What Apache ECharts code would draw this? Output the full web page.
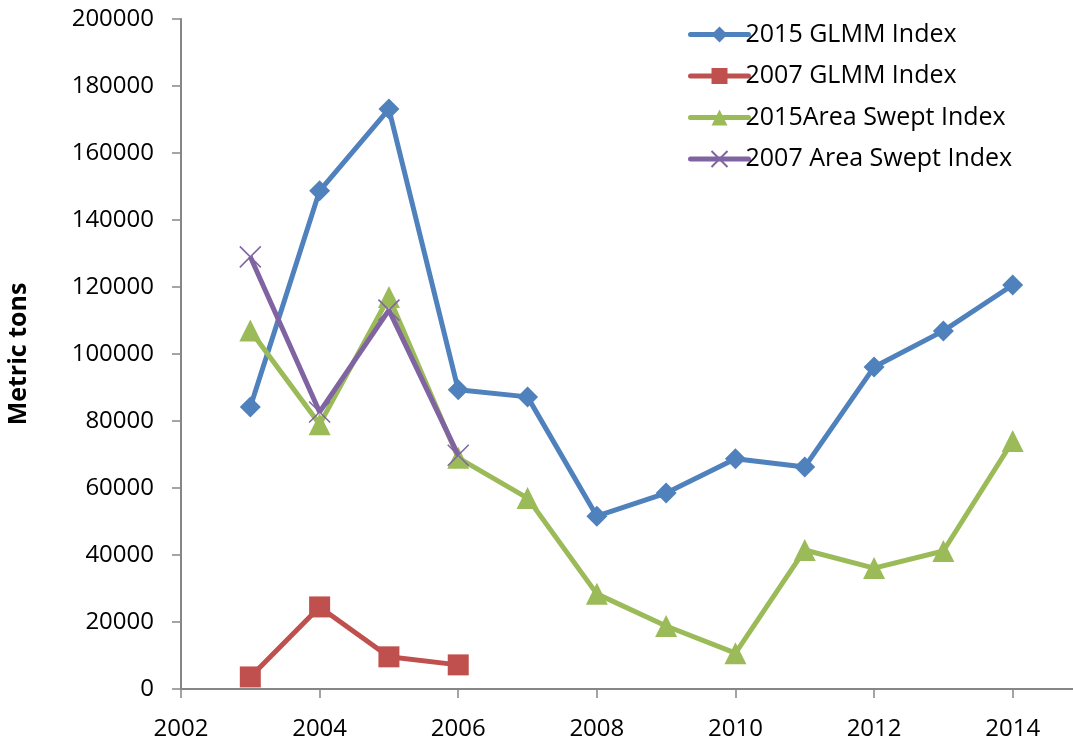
<!DOCTYPE html>
<html>
<head>
<meta charset="utf-8">
<script src="https://cdn.jsdelivr.net/npm/echarts@6/dist/echarts.min.js"></script>
<style>
  html, body { margin: 0; padding: 0; background: #fff; }
  #chart { width: 1073px; height: 742px; }
</style>
</head>
<body>
<div id="chart"></div>
<script>
// values
var years = [2003, 2004, 2005, 2006, 2007, 2008, 2009, 2010, 2011, 2012, 2013, 2014];
var glmm2015 = [84200, 148700, 173100, 89300, 87200, 51600, 58500, 68700, 66300, 96100, 106900, 120600];
var glmmYears2007 = [2003, 2004, 2005, 2006];
var glmm2007 = [3600, 24500, 9600, 7200];
var swept2015 = [107000, 79000, 117000, 69000, 57000, 28400, 18800, 10700, 41500, 36100, 41200, 74000];
var swept2007 = [129000, 82700, 113100, 69800];

function pairs(xs, ys) {
  var out = [];
  for (var i = 0; i < ys.length; i++) out.push([xs[i], ys[i]]);
  return out;
}

var axisGrey = '#868686';
var font = 'Open Sans';
var cross = 'path://M0,0L10,10M10,0L0,10';

var chart = echarts.init(document.getElementById('chart'));
var option = {
  animation: false,
  grid: { left: 181, top: 19, bottom: 53, right: -9, containLabel: false, outerBoundsMode: 'none' },
  legend: {
    orient: 'vertical',
    left: 683,
    top: 17,
    itemWidth: 58,
    itemHeight: 20,
    itemGap: 16.5,
    lineStyle: { width: 5, cap: 'round' },
    textStyle: { fontFamily: font, fontSize: 25, lineHeight: 24, color: '#000', padding: [0, 0, 0, -8] },
    data: ['2015 GLMM Index', '2007 GLMM Index', '2015Area Swept Index', '2007 Area Swept Index']
  },
  xAxis: {
    type: 'value',
    min: 2002,
    max: 2015,
    interval: 2,
    axisLine: { lineStyle: { color: axisGrey, width: 2 } },
    axisTick: { length: 9, lineStyle: { color: axisGrey, width: 1.5 } },
    splitLine: { show: false },
    axisLabel: {
      color: '#000', fontFamily: font, fontSize: 24, margin: 28,
      formatter: function (v) { return v % 2 === 0 ? String(v) : ''; }
    }
  },
  yAxis: {
    type: 'value',
    min: 0,
    max: 200000,
    interval: 20000,
    name: 'Metric tons',
    nameLocation: 'middle',
    nameGap: 150,
    nameTextStyle: { fontFamily: font, fontSize: 25, fontWeight: 'bold', color: '#000' },
    axisLine: { show: true, lineStyle: { color: axisGrey, width: 2 } },
    axisTick: { show: true, length: 9, lineStyle: { color: axisGrey, width: 1.5 } },
    splitLine: { show: false },
    axisLabel: {
      color: '#000', fontFamily: font, fontSize: 24, margin: 27,
      formatter: function (v) { return String(v); }
    }
  },
  series: [
    {
      name: '2015 GLMM Index', type: 'line', data: pairs(years, glmm2015),
      symbol: 'diamond', symbolSize: 21,
      lineStyle: { color: '#4F81BD', width: 5 },
      itemStyle: { color: '#4F81BD' }, z: 2
    },
    {
      name: '2007 GLMM Index', type: 'line', data: pairs(glmmYears2007, glmm2007),
      symbol: 'rect', symbolSize: 21,
      lineStyle: { color: '#C0504D', width: 5 },
      itemStyle: { color: '#C0504D' }, z: 3
    },
    {
      name: '2015Area Swept Index', type: 'line', data: pairs(years, swept2015),
      symbol: 'triangle', symbolSize: 22,
      lineStyle: { color: '#9BBB59', width: 5 },
      itemStyle: { color: '#9BBB59' }, z: 4
    },
    {
      name: '2007 Area Swept Index', type: 'line', data: pairs(glmmYears2007, swept2007),
      symbol: cross, symbolSize: 21,
      lineStyle: { color: '#8064A2', width: 5 },
      itemStyle: { color: 'rgba(0,0,0,0)', borderColor: '#8064A2', borderWidth: 1.5 }, z: 5
    }
  ]
};
chart.setOption(option);
</script>
</body>
</html>
